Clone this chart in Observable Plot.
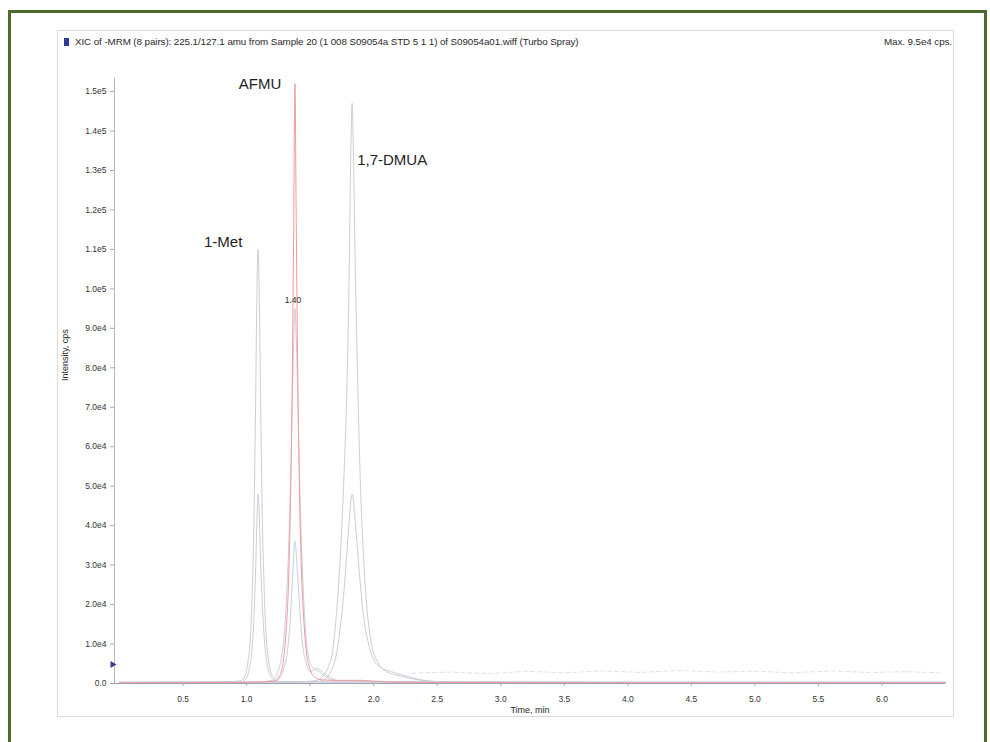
<!DOCTYPE html>
<html>
<head>
<meta charset="utf-8">
<script src="https://cdn.jsdelivr.net/npm/d3@7"></script>
<script src="https://cdn.jsdelivr.net/npm/@observablehq/plot@0.6"></script>
<style>
  html, body { margin: 0; padding: 0; background: #fff; overflow: hidden; }
  body { width: 990px; height: 742px; position: relative; font-family: "Liberation Sans", Arial, sans-serif; }
  #outer { position: absolute; left: 8px; top: 10px; width: 979px; height: 800px; border: 3px solid #4c6a2c; box-sizing: border-box; }
  #panel { position: absolute; left: 57px; top: 30px; width: 897px; height: 687px; border: 1px solid #dcdcdc; box-sizing: border-box; }
  #chart { position: absolute; left: 0; top: 0; }
  #title { position: absolute; left: 75px; top: 36px; font-size: 9.8px; color: #2a2a2a; white-space: nowrap; letter-spacing: -0.08px; }
  #sq { position: absolute; left: 64px; top: 38px; width: 5px; height: 8px; background: #2e3a9a; }
  #max { position: absolute; right: 38px; top: 36px; font-size: 9.8px; color: #2a2a2a; white-space: nowrap; letter-spacing: -0.08px; }
</style>
</head>
<body>
<div id="outer"></div>
<div id="panel"></div>
<div id="chart"></div>
<div id="sq"></div>
<div id="title"></div>
<div id="max"></div>
<script>
// ---- text ----
const titleText = "XIC of -MRM (8 pairs): 225.1/127.1 amu from Sample 20 (1 008 S09054a STD 5 1 1) of S09054a01.wiff (Turbo Spray)";
const maxText = "Max. 9.5e4 cps.";
const xLabel = "Time, min";
const yLabel = "Intensity, cps";

// ---- axes ----
const xDomain = [-0.04, 6.5];
const yDomain = [0, 153300];
const xTicks = [0.5, 1.0, 1.5, 2.0, 2.5, 3.0, 3.5, 4.0, 4.5, 5.0, 5.5, 6.0];
const yTicks = [0, 1e4, 2e4, 3e4, 4e4, 5e4, 6e4, 7e4, 8e4, 9e4, 1e5, 1.1e5, 1.2e5, 1.3e5, 1.4e5, 1.5e5];

// ---- traces: [time (min), intensity (cps)] ----
const met1High = [[0,300],[0.5,400],[0.9,500],[0.96,800],[0.99,2200],[1.01,5500],[1.03,12000],[1.045,24000],[1.06,46000],[1.07,70000],[1.08,97000],[1.09,110000],[1.10,97000],[1.11,72000],[1.12,48000],[1.135,27000],[1.15,14000],[1.17,6500],[1.19,3000],[1.22,1200],[1.26,500],[2,400],[3,300],[4,300],[5,300],[6.5,300]];
const met1Low = [[0,200],[0.9,300],[0.97,500],[1.0,1500],[1.02,3500],[1.04,8000],[1.055,15000],[1.07,28000],[1.08,40000],[1.09,48000],[1.10,42000],[1.11,31000],[1.125,19000],[1.14,11000],[1.16,5000],[1.18,2500],[1.21,1000],[1.25,400],[2,300],[4,200],[6.5,200]];
const afmuRed = [[0,200],[1.0,300],[1.22,600],[1.26,2000],[1.29,6000],[1.31,13000],[1.33,26000],[1.345,46000],[1.36,80000],[1.37,115000],[1.38,152000],[1.39,118000],[1.40,85000],[1.415,50000],[1.43,30000],[1.45,16000],[1.47,8000],[1.50,3500],[1.54,1500],[1.6,900],[1.7,800],[1.9,800],[2.0,600],[2.2,300],[4,200],[6.5,200]];
const afmuGreyHigh = [[0,300],[1.1,400],[1.2,800],[1.24,2500],[1.27,6000],[1.30,14000],[1.32,26000],[1.34,44000],[1.355,64000],[1.37,86000],[1.38,95000],[1.39,88000],[1.405,68000],[1.42,48000],[1.44,28000],[1.46,15000],[1.48,8000],[1.51,4500],[1.54,3500],[1.57,3000],[1.60,2200],[1.65,1200],[1.7,700],[2.5,400],[4,300],[6.5,300]];
const afmuGreyLow = [[0,200],[1.1,300],[1.22,500],[1.26,1500],[1.29,3500],[1.32,8000],[1.345,17000],[1.36,26000],[1.38,36000],[1.40,28000],[1.42,18000],[1.44,10000],[1.47,5000],[1.50,3000],[1.55,3800],[1.60,2800],[1.66,1500],[1.72,700],[2.5,300],[6.5,200]];
const dmuaHigh = [[0,300],[1.4,400],[1.55,800],[1.60,1800],[1.64,4000],[1.68,9000],[1.71,19000],[1.74,34000],[1.77,56000],[1.79,76000],[1.805,100000],[1.82,135000],[1.83,147000],[1.84,135000],[1.855,105000],[1.87,82000],[1.89,56000],[1.92,32000],[1.95,18000],[1.99,9000],[2.04,5000],[2.10,3000],[2.20,2000],[2.30,1200],[2.40,700],[2.50,500],[4,300],[6.5,300]];
const dmuaLow = [[0,200],[1.4,300],[1.58,600],[1.63,1500],[1.67,3500],[1.71,8000],[1.74,15000],[1.77,25000],[1.80,38000],[1.83,48000],[1.86,39000],[1.89,27000],[1.92,17000],[1.96,10000],[2.00,6000],[2.06,4000],[2.14,3000],[2.22,2200],[2.30,1500],[2.40,800],[2.50,500],[4,300],[6.5,300]];
const noiseTrace = [[2.3,2600],[2.6,2900],[2.9,2500],[3.2,3100],[3.5,2700],[3.8,3200],[4.1,2800],[4.4,3300],[4.7,2900],[5.0,3100],[5.3,2700],[5.6,3200],[5.9,2800],[6.2,3000],[6.45,2700]];

// ---- peak labels ----
const peakLabels = ["1-Met", "AFMU", "1,7-DMUA"];
const peakLabelX = [0.815, 1.105, 2.145];
const peakLabelY = [111800, 151800, 132600];
const rtLabel = ["1.40"];
const rtLabelX = [1.365];
const rtLabelY = [97100];

// baseline marker on the y axis
const baselineMarker = [4800];

// ---- build tables ----
const greyColor = "#cdcdd9";
const redColor = "#f29a9a";
const traces = [
  {name: "met1High", pts: met1High, color: greyColor},
  {name: "met1Low", pts: met1Low, color: greyColor},
  {name: "afmuGreyHigh", pts: afmuGreyHigh, color: greyColor},
  {name: "afmuGreyLow", pts: afmuGreyLow, color: greyColor},
  {name: "dmuaHigh", pts: dmuaHigh, color: greyColor},
  {name: "dmuaLow", pts: dmuaLow, color: greyColor},
  {name: "afmuRed", pts: afmuRed, color: redColor}
];
const rows = traces.flatMap(tr => tr.pts.map(([t, v]) => ({trace: tr.name, t, v, color: tr.color})));
const noiseRows = noiseTrace.map(([t, v]) => ({t, v}));
const labelRows = peakLabels.map((s, i) => ({s, x: peakLabelX[i], y: peakLabelY[i]}));
const rtRows = rtLabel.map((s, i) => ({s, x: rtLabelX[i], y: rtLabelY[i]}));

const yFmt = d => d === 0 ? "0.0" : d.toExponential(1).replace("e+", "e");

const chart = Plot.plot({
  width: 990,
  height: 742,
  marginLeft: 114,
  marginRight: 45,
  marginTop: 78,
  marginBottom: 59,
  style: {fontFamily: "Liberation Sans, Arial, sans-serif", fontSize: "8.5px", background: "transparent", color: "#333"},
  x: {domain: xDomain},
  y: {domain: yDomain},
  marks: [
    Plot.line(noiseRows, {x: "t", y: "v", stroke: "#e2e2e8", strokeWidth: 1, strokeDasharray: "4,3"}),
    Plot.line(rows, {x: "t", y: "v", z: "trace", stroke: "color", strokeWidth: 1, curve: "monotone-x"}),
    Plot.ruleY([0], {stroke: "#9fa2b4", strokeWidth: 1.2}),
    Plot.ruleX([xDomain[0]], {stroke: "#b8b8b8", strokeWidth: 1}),
    Plot.axisX({ticks: xTicks, tickFormat: d => d.toFixed(1), tickSize: 3, tickPadding: 9, stroke: "#aaa", label: null}),
    Plot.axisY({ticks: yTicks, tickFormat: yFmt, tickSize: 4, tickPadding: 4, stroke: "#aaa", label: null}),
    Plot.text([xLabel], {frameAnchor: "bottom", dy: 29, text: d => d, fontSize: 9, fill: "#2a2a2a"}),
    Plot.text([yLabel], {frameAnchor: "left", dx: -49, rotate: -90, text: d => d, fontSize: 9, fill: "#2a2a2a"}),
    Plot.dot(baselineMarker, {x: xDomain[0], y: d => d, symbol: "triangle", rotate: 90, r: 2.6, fill: "#3a3f8f", dx: -2}),
    Plot.text(labelRows, {x: "x", y: "y", text: "s", fontSize: 15, fill: "#1e1e1e"}),
    Plot.text(rtRows, {x: "x", y: "y", text: "s", fontSize: 8.5, fill: "#2a2a2a"})
  ]
});
document.getElementById("chart").appendChild(chart);
document.getElementById("title").textContent = titleText;
document.getElementById("max").textContent = maxText;
</script>
</body>
</html>
